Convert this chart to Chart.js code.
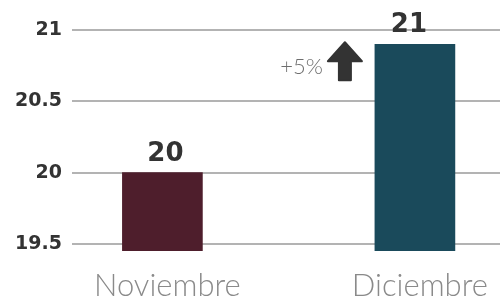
<!DOCTYPE html>
<html lang="es">
<head>
    <meta charset="UTF-8">
    <title>Noviembre vs Diciembre</title>
    <script src="https://cdn.jsdelivr.net/npm/chart.js"></script>
    <style>
        body { margin: 0; background: #fff; }
        #wrap { width: 500px; height: 297px; }
    </style>
</head>
<body>
    <div id="wrap"><canvas id="chart"></canvas></div>

    <script>
        // data
        const months = ['Noviembre', 'Diciembre'];
        const values = [20, 20.9];
        const yTicks = [19.5, 20, 20.5, 21];
        const barColors = ['#4e1e2c', '#1a4a5b'];
        const changeLabel = '+5%';

        const positions = months.map((m, i) => i + 1);

        // value labels on top of the bars + the "+5%" arrow note
        const barNotes = {
            id: 'barNotes',
            afterDatasetsDraw(chart) {
                const ctx = chart.ctx;
                const bars = chart.getDatasetMeta(0).data;
                ctx.save();
                ctx.fillStyle = '#333';
                ctx.font = 'bold 26px "DejaVu Sans"';
                ctx.textAlign = 'center';
                ctx.textBaseline = 'alphabetic';
                bars.forEach((bar, i) => {
                    const shift = i === bars.length - 1 ? -6 : 3;
                    ctx.fillText(String(Math.round(values[i])), bar.x + shift, bar.y - 12);
                });

                // arrow next to the last bar
                const last = bars[bars.length - 1];
                const right = last.x - last.width / 2 - 12;
                const top = last.y - 3;
                const headW = 36, headH = 20, shaftW = 12, shaftH = 19;
                const cx = right - headW / 2;
                ctx.fillStyle = '#333';
                ctx.strokeStyle = '#333';
                ctx.lineJoin = 'round';
                ctx.lineWidth = 2;
                ctx.beginPath();
                ctx.moveTo(cx, top + 1);
                ctx.lineTo(cx + headW / 2 - 1, top + headH);
                ctx.lineTo(cx + shaftW / 2, top + headH);
                ctx.lineTo(cx + shaftW / 2, top + headH + shaftH);
                ctx.lineTo(cx - shaftW / 2, top + headH + shaftH);
                ctx.lineTo(cx - shaftW / 2, top + headH);
                ctx.lineTo(cx - headW / 2 + 1, top + headH);
                ctx.closePath();
                ctx.fill();
                ctx.stroke();

                ctx.fillStyle = '#6e6e6e';
                ctx.font = '300 22px Lato';
                ctx.textAlign = 'right';
                ctx.fillText(changeLabel, right - headW - 4, top + 33);
                ctx.restore();
            }
        };

        new Chart(document.getElementById('chart'), {
            type: 'bar',
            data: {
                datasets: [{
                    data: positions.map((x, i) => ({ x: x, y: values[i] })),
                    backgroundColor: barColors,
                    barThickness: 80
                }]
            },
            options: {
                responsive: true,
                maintainAspectRatio: false,
                animation: false,
                layout: { padding: { top: 30, right: 0, left: 0, bottom: 0 } },
                plugins: {
                    legend: { display: false },
                    tooltip: { enabled: false }
                },
                scales: {
                    x: {
                        type: 'linear',
                        offset: false,
                        min: 0.642,
                        max: 2.337,
                        afterBuildTicks: (scale) => { scale.ticks = positions.map(v => ({ value: v })); },
                        afterFit: (scale) => { scale.height = 46; },
                        grid: { display: false },
                        border: { display: false },
                        ticks: {
                            autoSkip: false,
                            maxRotation: 0,
                            padding: 8,
                            labelOffset: 5,
                            color: '#8a8a8a',
                            font: { family: 'Lato', weight: '300', size: 31 },
                            callback: (v) => months[v - 1] || ''
                        }
                    },
                    y: {
                        min: 19.45,
                        max: 21,
                        afterBuildTicks: (scale) => { scale.ticks = yTicks.map(v => ({ value: v })); },
                        afterFit: (scale) => { scale.width = 72; },
                        grid: { color: '#b3b3b3', lineWidth: 2, drawTicks: false },
                        border: { display: false },
                        ticks: {
                            padding: 10,
                            color: '#333',
                            font: { family: 'DejaVu Sans', weight: 'bold', size: 19 },
                            callback: (v) => String(v)
                        }
                    }
                }
            },
            plugins: [barNotes]
        });
    </script>
</body>
</html>
